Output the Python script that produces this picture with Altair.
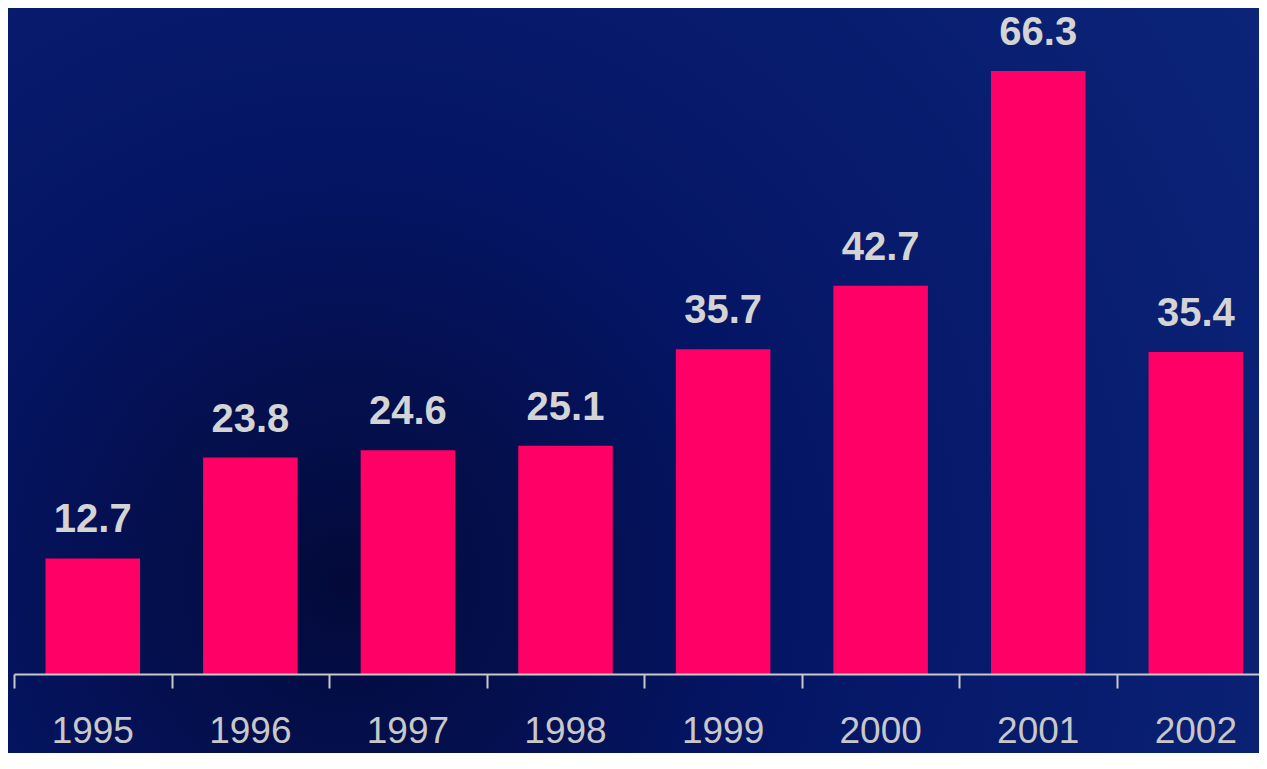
import altair as alt
import pandas as pd

years = [1995, 1996, 1997, 1998, 1999, 2000, 2001, 2002]
values = [12.7, 23.8, 24.6, 25.1, 35.7, 42.7, 66.3, 35.4]
labels = ["12.7", "23.8", "24.6", "25.1", "35.7", "42.7", "66.3", "35.4"]

df = pd.DataFrame({"year": years, "value": values, "label": labels})
df["x0"] = df["year"] - 0.3
df["x1"] = df["year"] + 0.3

boundaries = [y - 0.5 for y in years]

W, H = 1245, 666
FONT = "'Liberation Sans', Arial, Helvetica, sans-serif"
xscale = alt.Scale(domain=[1994.5, 2002.401], nice=False, zero=False)
yscale = alt.Scale(domain=[0, 73.23], nice=False, zero=True)

bg = alt.Chart(alt.Data(values=[{}])).mark_rect(
    fill={
        "gradient": "radial",
        "x1": 0.27, "y1": 0.66, "r1": 0,
        "x2": 0.27, "y2": 0.66, "r2": 0.85,
        "stops": [
            {"offset": 0, "color": "#030A3A"},
            {"offset": 0.4, "color": "#051565"},
            {"offset": 1, "color": "#0B2478"},
        ],
    },
    clip=False,
).encode(
    x=alt.value(-6), x2=alt.value(W), y=alt.value(0), y2=alt.value(745)
)

base = alt.Chart(df)

bars = base.mark_rect(color="#FF0066").encode(
    x=alt.X("x0:Q", scale=xscale,
            axis=alt.Axis(values=boundaries, labels=False, title=None, grid=False,
                          domainColor="#C8C8C8", domainWidth=2,
                          tickColor="#C8C8C8", tickWidth=2, tickSize=14,
                          zindex=1)),
    x2="x1:Q",
    y=alt.Y("value:Q", scale=yscale, axis=None),
    y2=alt.datum(0),
)

bar_labels = base.mark_text(
    font=FONT, fontWeight="bold", fontSize=40,
    color="#D4D4D4", baseline="alphabetic", dy=-26, align="center",
).encode(
    x=alt.X("year:Q", scale=xscale),
    y=alt.Y("value:Q", scale=yscale),
    text="label:N",
)

year_labels = base.mark_text(
    font=FONT, fontSize=37,
    color="#C8C8C8", baseline="alphabetic", align="center",
).encode(
    x=alt.X("year:Q", scale=xscale),
    y=alt.value(735),
    text="year:N",
)

chart = alt.layer(bg, bars, bar_labels, year_labels).properties(
    width=W, height=H,
    padding={"left": 6, "top": 0, "right": 0, "bottom": 79},
    autosize=alt.AutoSizeParams(type="none"),
    background="#06175E",
).configure_view(stroke=None)

chart.save("out.html", embed_options={"renderer": "svg", "actions": False})
